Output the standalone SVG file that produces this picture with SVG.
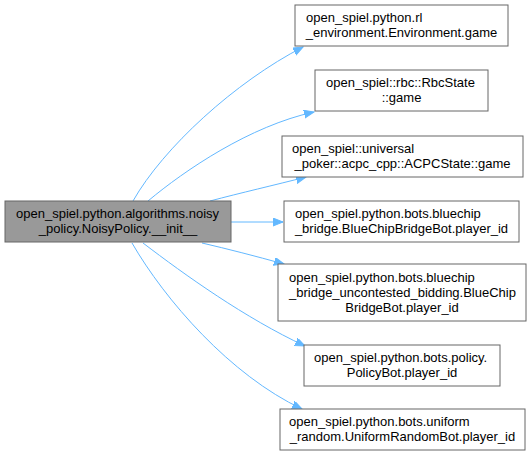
<svg xmlns="http://www.w3.org/2000/svg" width="530" height="457" viewBox="0 0 530 457">
<style>
.n rect{fill:#ffffff;stroke:#666666;stroke-width:1}
.n.main rect{fill:#999999}
.n text{font-family:"Liberation Sans",Arial,Helvetica,sans-serif;font-size:13px;fill:#000000}
.c{text-anchor:middle}
.e path{fill:none;stroke:#63b8ff;stroke-width:1;marker-end:url(#ah)}
</style>
<defs>
<marker id="ah" markerUnits="userSpaceOnUse" markerWidth="11" markerHeight="9" refX="10" refY="4" orient="auto">
<path d="M0,0 L10,4 L0,8 z" fill="#63b8ff" stroke="#63b8ff" stroke-width="1"/>
</marker>
</defs>
<rect width="530" height="457" fill="#ffffff"/>
<g id="edges" class="e">
<path d="M133,201 C163,148 235,82 303,47"/>
<path d="M148,201 C185,170 250,126 314,112"/>
<path d="M210,201 C240,193 275,185 306,177"/>
<path d="M231,222 L283,222"/>
<path d="M202,243 C228,249 255,256 284,264"/>
<path d="M143,243 C185,275 245,318 305,346"/>
<path d="M132,243 C165,300 230,375 302,409"/>
</g>
<g id="node_main" class="n main">
<rect x="5" y="201" width="226" height="41"/>
<text x="16" y="218">open_spiel.python.algorithms.noisy</text>
<text class="c" x="118" y="233">_policy.NoisyPolicy.__init__</text>
</g>
<g id="node1" class="n">
<rect x="295" y="5" width="213" height="41"/>
<text x="306" y="22">open_spiel.python.rl</text>
<text class="c" x="401.5" y="37">_environment.Environment.game</text>
</g>
<g id="node2" class="n">
<rect x="315" y="70" width="173" height="41"/>
<text x="326" y="87">open_spiel::rbc::RbcState</text>
<text class="c" x="401.5" y="102">::game</text>
</g>
<g id="node3" class="n">
<rect x="282" y="136" width="241" height="41"/>
<text x="292" y="153">open_spiel::universal</text>
<text class="c" x="402.5" y="168">_poker::acpc_cpp::ACPCState::game</text>
</g>
<g id="node4" class="n">
<rect x="284" y="201" width="235" height="41"/>
<text x="295" y="218">open_spiel.python.bots.bluechip</text>
<text class="c" x="401.5" y="233">_bridge.BlueChipBridgeBot.player_id</text>
</g>
<g id="node5" class="n">
<rect x="278" y="264" width="248" height="57"/>
<text x="289" y="282">open_spiel.python.bots.bluechip</text>
<text x="289" y="297">_bridge_uncontested_bidding.BlueChip</text>
<text class="c" x="402" y="312">BridgeBot.player_id</text>
</g>
<g id="node6" class="n">
<rect x="304" y="345" width="196" height="41"/>
<text x="314" y="362">open_spiel.python.bots.policy.</text>
<text class="c" x="402" y="377">PolicyBot.player_id</text>
</g>
<g id="node7" class="n">
<rect x="280" y="409" width="245" height="41"/>
<text x="289" y="426">open_spiel.python.bots.uniform</text>
<text class="c" x="402.5" y="441">_random.UniformRandomBot.player_id</text>
</g>
</svg>
